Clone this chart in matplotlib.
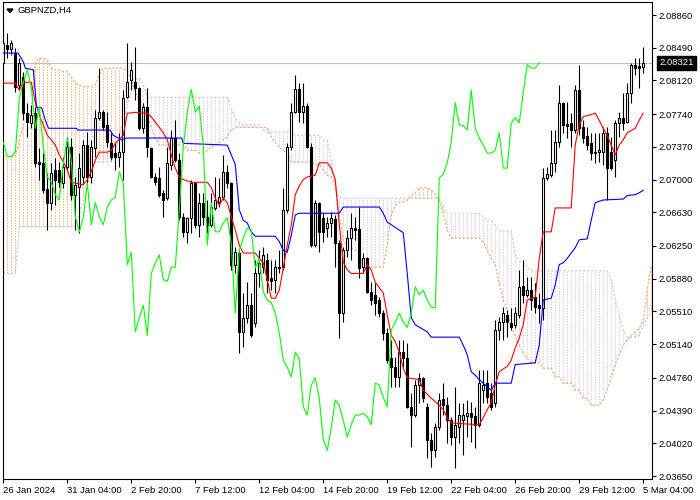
import numpy as np
import matplotlib.pyplot as plt
from matplotlib.patches import Polygon
from matplotlib.transforms import blended_transform_factory

plt.rcParams['font.family'] = ['Liberation Sans', 'DejaVu Sans']

# GBPNZD H4 candles, bars 0..160 (one bar = 4 hours)
date_labels = ['26 Jan 2024', '31 Jan 04:00', '2 Feb 20:00', '7 Feb 12:00', '12 Feb 04:00',
               '14 Feb 20:00', '19 Feb 12:00', '22 Feb 04:00', '26 Feb 20:00', '29 Feb 12:00',
               '5 Mar 04:00']

opens = [2.0832, 2.0852, 2.0848, 2.0843, 2.0807, 2.0816, 2.0775, 2.0764, 2.0775, 2.0720,
         2.0719, 2.0689, 2.0674, 2.0711, 2.0711, 2.0696, 2.0714, 2.0737, 2.0683, 2.0692,
         2.0703, 2.0739, 2.0703, 2.0736, 2.0770, 2.0776, 2.0762, 2.0741, 2.0730, 2.0726,
         2.0731, 2.0793, 2.0813, 2.0810, 2.0804, 2.0758, 2.0782, 2.0736, 2.0703, 2.0702,
         2.0685, 2.0679, 2.0717, 2.0747, 2.0722, 2.0658, 2.0641, 2.0657, 2.0696, 2.0649,
         2.0674, 2.0658, 2.0649, 2.0668, 2.0675, 2.0680, 2.0709, 2.0696, 2.0604, 2.0617,
         2.0528, 2.0544, 2.0558, 2.0538, 2.0594, 2.0601, 2.0609, 2.0589, 2.0587, 2.0600,
         2.0601, 2.0666, 2.0737, 2.0776, 2.0802, 2.0776, 2.0783, 2.0737, 2.0626, 2.0674,
         2.0657, 2.0645, 2.0651, 2.0656, 2.0628, 2.0549, 2.0620, 2.0634, 2.0645, 2.0644,
         2.0601, 2.0611, 2.0573, 2.0570, 2.0564, 2.0549, 2.0527, 2.0498, 2.0488, 2.0477,
         2.0505, 2.0498, 2.0443, 2.0434, 2.0468, 2.0476, 2.0443, 2.0406, 2.0394, 2.0420,
         2.0452, 2.0445, 2.0428, 2.0409, 2.0420, 2.0428, 2.0433, 2.0436, 2.0433, 2.0423,
         2.0462, 2.0470, 2.0459, 2.0448, 2.0530, 2.0539, 2.0547, 2.0538, 2.0536, 2.0547,
         2.0580, 2.0570, 2.0575, 2.0567, 2.0558, 2.0555, 2.0702, 2.0705, 2.0719, 2.0742,
         2.0787, 2.0763, 2.0764, 2.0756, 2.0801, 2.0759, 2.0749, 2.0741, 2.0731, 2.0731,
         2.0731, 2.0753, 2.0731, 2.0722, 2.0764, 2.0770, 2.0765, 2.0798, 2.0830, 2.0828,
         2.0827]

highs = [2.0869, 2.0866, 2.0858, 2.0849, 2.0837, 2.0822, 2.0787, 2.0784, 2.0782, 2.0736,
         2.0730, 2.0707, 2.0719, 2.0724, 2.0720, 2.0726, 2.0748, 2.0747, 2.0703, 2.0730,
         2.0745, 2.0754, 2.0745, 2.0779, 2.0826, 2.0779, 2.0776, 2.0753, 2.0741, 2.0753,
         2.0801, 2.0854, 2.0833, 2.0850, 2.0805, 2.0787, 2.0804, 2.0737, 2.0707, 2.0714,
         2.0688, 2.0737, 2.0756, 2.0767, 2.0730, 2.0662, 2.0658, 2.0700, 2.0697, 2.0685,
         2.0685, 2.0677, 2.0685, 2.0703, 2.0702, 2.0728, 2.0717, 2.0697, 2.0624, 2.0620,
         2.0572, 2.0584, 2.0572, 2.0609, 2.0620, 2.0624, 2.0617, 2.0609, 2.0609, 2.0620,
         2.0691, 2.0741, 2.0787, 2.0818, 2.0809, 2.0809, 2.0787, 2.0741, 2.0677, 2.0675,
         2.0662, 2.0658, 2.0663, 2.0660, 2.0632, 2.0624, 2.0643, 2.0662, 2.0658, 2.0669,
         2.0617, 2.0613, 2.0584, 2.0583, 2.0567, 2.0553, 2.0532, 2.0519, 2.0500, 2.0519,
         2.0519, 2.0515, 2.0459, 2.0474, 2.0481, 2.0477, 2.0448, 2.0414, 2.0425, 2.0459,
         2.0470, 2.0454, 2.0432, 2.0466, 2.0448, 2.0448, 2.0451, 2.0449, 2.0443, 2.0485,
         2.0485, 2.0485, 2.0470, 2.0541, 2.0545, 2.0556, 2.0553, 2.0555, 2.0556, 2.0598,
         2.0609, 2.0590, 2.0590, 2.0583, 2.0572, 2.0713, 2.0714, 2.0756, 2.0756, 2.0807,
         2.0788, 2.0788, 2.0775, 2.0807, 2.0830, 2.0767, 2.0759, 2.0753, 2.0753, 2.0753,
         2.0759, 2.0759, 2.0748, 2.0767, 2.0776, 2.0798, 2.0809, 2.0832, 2.0837, 2.0837,
         2.0850]

lows = [2.0830, 2.0837, 2.0841, 2.0799, 2.0801, 2.0767, 2.0748, 2.0758, 2.0714, 2.0700,
        2.0685, 2.0643, 2.0666, 2.0671, 2.0692, 2.0691, 2.0711, 2.0677, 2.0643, 2.0640,
        2.0696, 2.0696, 2.0696, 2.0726, 2.0767, 2.0756, 2.0737, 2.0722, 2.0711, 2.0714,
        2.0700, 2.0792, 2.0801, 2.0790, 2.0756, 2.0753, 2.0726, 2.0702, 2.0694, 2.0680,
        2.0658, 2.0677, 2.0711, 2.0720, 2.0654, 2.0635, 2.0628, 2.0640, 2.0645, 2.0635,
        2.0649, 2.0640, 2.0647, 2.0666, 2.0669, 2.0677, 2.0691, 2.0598, 2.0594, 2.0504,
        2.0511, 2.0538, 2.0522, 2.0533, 2.0579, 2.0594, 2.0572, 2.0575, 2.0572, 2.0594,
        2.0598, 2.0662, 2.0733, 2.0775, 2.0765, 2.0764, 2.0736, 2.0624, 2.0624, 2.0618,
        2.0630, 2.0635, 2.0635, 2.0601, 2.0521, 2.0539, 2.0613, 2.0609, 2.0632, 2.0589,
        2.0594, 2.0572, 2.0558, 2.0547, 2.0545, 2.0519, 2.0493, 2.0466, 2.0466, 2.0466,
        2.0488, 2.0442, 2.0398, 2.0432, 2.0448, 2.0449, 2.0385, 2.0375, 2.0387, 2.0417,
        2.0434, 2.0402, 2.0400, 2.0374, 2.0402, 2.0389, 2.0409, 2.0403, 2.0397, 2.0420,
        2.0448, 2.0448, 2.0440, 2.0443, 2.0519, 2.0519, 2.0522, 2.0530, 2.0532, 2.0544,
        2.0561, 2.0567, 2.0553, 2.0549, 2.0538, 2.0541, 2.0700, 2.0703, 2.0709, 2.0737,
        2.0753, 2.0747, 2.0737, 2.0753, 2.0750, 2.0741, 2.0733, 2.0722, 2.0719, 2.0720,
        2.0717, 2.0677, 2.0711, 2.0703, 2.0748, 2.0756, 2.0764, 2.0787, 2.0818, 2.0804,
        2.0820]

closes = [2.0854, 2.0848, 2.0854, 2.0805, 2.0832, 2.0775, 2.0765, 2.0773, 2.0719, 2.0718,
          2.0688, 2.0674, 2.0707, 2.0700, 2.0697, 2.0714, 2.0737, 2.0683, 2.0694, 2.0713,
          2.0739, 2.0703, 2.0737, 2.0770, 2.0776, 2.0759, 2.0742, 2.0726, 2.0726, 2.0731,
          2.0792, 2.0810, 2.0824, 2.0804, 2.0758, 2.0782, 2.0737, 2.0703, 2.0697, 2.0683,
          2.0677, 2.0719, 2.0747, 2.0722, 2.0658, 2.0641, 2.0657, 2.0696, 2.0649, 2.0674,
          2.0658, 2.0649, 2.0669, 2.0677, 2.0680, 2.0709, 2.0696, 2.0604, 2.0618, 2.0528,
          2.0544, 2.0558, 2.0524, 2.0594, 2.0606, 2.0615, 2.0587, 2.0585, 2.0601, 2.0601,
          2.0666, 2.0737, 2.0776, 2.0802, 2.0776, 2.0783, 2.0737, 2.0626, 2.0674, 2.0641,
          2.0641, 2.0651, 2.0657, 2.0628, 2.0549, 2.0620, 2.0634, 2.0645, 2.0643, 2.0600,
          2.0611, 2.0573, 2.0564, 2.0561, 2.0549, 2.0527, 2.0496, 2.0488, 2.0477, 2.0505,
          2.0498, 2.0443, 2.0434, 2.0468, 2.0476, 2.0453, 2.0406, 2.0394, 2.0420, 2.0451,
          2.0445, 2.0428, 2.0409, 2.0423, 2.0434, 2.0434, 2.0436, 2.0432, 2.0423, 2.0470,
          2.0468, 2.0454, 2.0443, 2.0530, 2.0539, 2.0549, 2.0539, 2.0533, 2.0549, 2.0579,
          2.0570, 2.0575, 2.0564, 2.0556, 2.0555, 2.0702, 2.0706, 2.0719, 2.0742, 2.0787,
          2.0762, 2.0761, 2.0756, 2.0801, 2.0758, 2.0747, 2.0739, 2.0730, 2.0730, 2.0733,
          2.0753, 2.0713, 2.0713, 2.0764, 2.0770, 2.0764, 2.0798, 2.0830, 2.0826, 2.0826,
          2.08321]

# Tenkan-sen (red) and Kijun-sen (blue), read as (bar, price) points
tenkan_bar = [0, 3, 4, 5, 7, 8, 9, 10, 11, 12, 13, 14, 15, 16, 17, 20, 21, 22, 23, 24,
              26, 27, 28, 30, 31, 33, 36, 37, 39, 40, 41, 42, 43, 44, 45, 47, 51, 52, 53, 54,
              55, 56, 57, 58, 59, 60, 63, 64, 65, 66, 67, 68, 69, 70, 71, 72, 73, 74, 75, 76,
              78, 79, 81, 82, 83, 84, 85, 86, 87, 90, 91, 92, 93, 94, 95, 96, 97, 98, 99, 100,
              101, 104, 105, 107, 109, 110, 111, 112, 119, 120, 121, 122, 123, 124, 126, 127, 128, 129, 130, 131,
              133, 134, 135, 137, 138, 142, 143, 144, 145, 148, 149, 150, 151, 152, 153, 154, 155, 156, 158, 159,
              160]
tenkan = [2.0809, 2.0809, 2.0801, 2.0810, 2.0810, 2.0787, 2.0773, 2.0762, 2.0750, 2.0745,
          2.0739, 2.0728, 2.0720, 2.0711, 2.0697, 2.0694, 2.0700, 2.0709, 2.0722, 2.0731,
          2.0731, 2.0733, 2.0741, 2.0750, 2.0775, 2.0776, 2.0775, 2.0771, 2.0759, 2.0753,
          2.0745, 2.0728, 2.0713, 2.0703, 2.0700, 2.0697, 2.0697, 2.0691, 2.0679, 2.0671,
          2.0679, 2.0674, 2.0658, 2.0643, 2.0626, 2.0617, 2.0617, 2.0611, 2.0606, 2.0587,
          2.0566, 2.0566, 2.0575, 2.0600, 2.0626, 2.0649, 2.0683, 2.0693, 2.0700, 2.0703,
          2.0705, 2.0719, 2.0719, 2.0713, 2.0700, 2.0649, 2.0607, 2.0598, 2.0594, 2.0594,
          2.0604, 2.0598, 2.0584, 2.0578, 2.0572, 2.0547, 2.0524, 2.0517, 2.0505, 2.0487,
          2.0476, 2.0474, 2.0462, 2.0453, 2.0445, 2.0440, 2.0431, 2.0425, 2.0423, 2.0431,
          2.0440, 2.0448, 2.0468, 2.0483, 2.0489, 2.0496, 2.0510, 2.0521, 2.0536, 2.0564,
          2.0567, 2.0611, 2.0641, 2.0641, 2.0668, 2.0668, 2.0739, 2.0762, 2.0771, 2.0775,
          2.0767, 2.0758, 2.0750, 2.0739, 2.0728, 2.0739, 2.0745, 2.0753, 2.0758, 2.0767,
          2.0775]

kijun_bar = [0, 3.7, 5, 5.5, 7.5, 8.3, 9.6, 10.5, 11.3, 18.3, 18.6, 26.7, 27.5, 29.6, 30.8, 44.6, 45, 56, 57, 58,
             59, 60, 61, 62, 63, 68, 69, 70, 71, 72, 73, 74, 84, 85, 94, 95, 96, 97, 100, 101,
             102, 103, 106, 107, 114, 115, 116, 117, 118, 119, 121, 122, 123, 127, 128, 133, 134, 135, 137, 138,
             139, 140, 141, 142, 143, 144, 146, 147, 148, 150, 155, 156, 158, 159, 160]
kijun = [2.0843, 2.0843, 2.0833, 2.0826, 2.0824, 2.0782, 2.0781, 2.0767, 2.0758, 2.0758,
         2.0756, 2.0756, 2.0750, 2.0745, 2.0747, 2.0747, 2.0741, 2.0739, 2.0728, 2.0717,
         2.0666, 2.0654, 2.0651, 2.0641, 2.0636, 2.0636, 2.0630, 2.0620, 2.0618, 2.0637,
         2.0660, 2.0662, 2.0662, 2.0669, 2.0669, 2.0662, 2.0652, 2.0649, 2.0640, 2.0594,
         2.0544, 2.0536, 2.0528, 2.0522, 2.0522, 2.0513, 2.0502, 2.0483, 2.0479, 2.0474,
         2.0466, 2.0462, 2.0470, 2.0470, 2.0491, 2.0493, 2.0513, 2.0564, 2.0566, 2.0581,
         2.0604, 2.0606, 2.0611, 2.0617, 2.0623, 2.0632, 2.0633, 2.0654, 2.0674, 2.0677,
         2.0678, 2.0682, 2.0683, 2.0685, 2.0688]

# Senkou span A / B, one value per bar (0..162)
span_a = [2.0726, 2.0726, 2.0726, 2.0726, 2.0745, 2.0762, 2.0767, 2.0779, 2.0833, 2.0837,
          2.0837, 2.0835, 2.0826, 2.0824, 2.0824, 2.0822, 2.0822, 2.0816, 2.0809, 2.0807,
          2.0805, 2.0805, 2.0805, 2.0807, 2.0818, 2.0826, 2.0826, 2.0826, 2.0826, 2.0826,
          2.0826, 2.0822, 2.0815, 2.0799, 2.0790, 2.0787, 2.0773, 2.0759, 2.0747, 2.0739,
          2.0739, 2.0739, 2.0739, 2.0739, 2.0739, 2.0739, 2.0733, 2.0733, 2.0733, 2.0730,
          2.0730, 2.0733, 2.0737, 2.0739, 2.0742, 2.0745, 2.0748, 2.0756, 2.0759, 2.0759,
          2.0759, 2.0759, 2.0759, 2.0759, 2.0759, 2.0759, 2.0759, 2.0748, 2.0742, 2.0737,
          2.0733, 2.0730, 2.0720, 2.0720, 2.0720, 2.0720, 2.0720, 2.0720, 2.0717, 2.0717,
          2.0711, 2.0705, 2.0703, 2.0694, 2.0660, 2.0632, 2.0626, 2.0623, 2.0620, 2.0617,
          2.0601, 2.0601, 2.0601, 2.0601, 2.0601, 2.0601, 2.0626, 2.0660, 2.0671, 2.0674,
          2.0675, 2.0677, 2.0683, 2.0685, 2.0691, 2.0691, 2.0691, 2.0688, 2.0683, 2.0677,
          2.0662, 2.0643, 2.0634, 2.0634, 2.0634, 2.0634, 2.0634, 2.0634, 2.0634, 2.0634,
          2.0630, 2.0620, 2.0611, 2.0604, 2.0583, 2.0564, 2.0553, 2.0533, 2.0524, 2.0513,
          2.0505, 2.0498, 2.0493, 2.0493, 2.0493, 2.0487, 2.0487, 2.0487, 2.0477, 2.0477,
          2.0470, 2.0470, 2.0470, 2.0462, 2.0462, 2.0453, 2.0453, 2.0445, 2.0445, 2.0445,
          2.0451, 2.0462, 2.0477, 2.0491, 2.0502, 2.0513, 2.0519, 2.0524, 2.0528, 2.0532,
          2.0541, 2.0575, 2.0604]

span_b = [2.0594, 2.0594, 2.0594, 2.0594, 2.0647, 2.0647, 2.0647, 2.0647, 2.0647, 2.0647,
          2.0647, 2.0647, 2.0647, 2.0647, 2.0647, 2.0647, 2.0647, 2.0647, 2.0649, 2.0660,
          2.0677, 2.0694, 2.0711, 2.0720, 2.0720, 2.0720, 2.0720, 2.0720, 2.0733, 2.0750,
          2.0767, 2.0784, 2.0801, 2.0813, 2.0815, 2.0807, 2.0793, 2.0793, 2.0793, 2.0793,
          2.0793, 2.0793, 2.0793, 2.0793, 2.0793, 2.0793, 2.0793, 2.0793, 2.0793, 2.0793,
          2.0793, 2.0793, 2.0793, 2.0793, 2.0793, 2.0793, 2.0793, 2.0779, 2.0770, 2.0764,
          2.0762, 2.0762, 2.0762, 2.0762, 2.0762, 2.0756, 2.0754, 2.0754, 2.0754, 2.0754,
          2.0754, 2.0754, 2.0754, 2.0750, 2.0750, 2.0750, 2.0750, 2.0750, 2.0750, 2.0750,
          2.0745, 2.0745, 2.0722, 2.0694, 2.0679, 2.0679, 2.0679, 2.0679, 2.0679, 2.0679,
          2.0679, 2.0679, 2.0679, 2.0679, 2.0679, 2.0679, 2.0679, 2.0679, 2.0679, 2.0679,
          2.0679, 2.0679, 2.0679, 2.0679, 2.0679, 2.0679, 2.0679, 2.0679, 2.0679, 2.0679,
          2.0671, 2.0662, 2.0662, 2.0662, 2.0662, 2.0662, 2.0662, 2.0662, 2.0662, 2.0662,
          2.0658, 2.0654, 2.0654, 2.0649, 2.0642, 2.0642, 2.0642, 2.0642, 2.0615, 2.0609,
          2.0606, 2.0601, 2.0597, 2.0597, 2.0597, 2.0597, 2.0597, 2.0597, 2.0597, 2.0597,
          2.0597, 2.0597, 2.0597, 2.0597, 2.0597, 2.0597, 2.0597, 2.0597, 2.0597, 2.0597,
          2.0597, 2.0597, 2.0587, 2.0564, 2.0547, 2.0530, 2.0522, 2.0522, 2.0522, 2.0524,
          2.0536, 2.0544, 2.0550]

price_ticks = [2.08860, 2.08490, 2.08120, 2.07740, 2.07370, 2.07000, 2.06630, 2.06250,
               2.05880, 2.05510, 2.05140, 2.04760, 2.04390, 2.04020, 2.03650]

o = np.array(opens)
h = np.array(highs)
l = np.array(lows)
c = np.array(closes)
bars = np.arange(len(c))

fig = plt.figure(figsize=(7, 5), dpi=100)
ax = fig.add_axes([3 / 700, 21 / 500, 649 / 700, 477 / 500])

# Ichimoku cloud: dotted vertical strokes between the two spans
sa = np.array(span_a)
sb = np.array(span_b)
sbars = np.arange(len(sa))
up = sa >= sb
dots = (0, (2, 1.6))
ax.vlines(sbars[up], sb[up], sa[up], colors='#F4A460', linewidth=0.55, linestyles=[dots], zorder=1)
ax.vlines(sbars[~up], sa[~up], sb[~up], colors='#D8BFD8', linewidth=0.55, linestyles=[dots], zorder=1)
ax.plot(sbars, sa, color='#F4A460', lw=0.8, ls=dots, zorder=2)
ax.plot(sbars, sb, color='#D8BFD8', lw=0.8, ls=dots, zorder=2)

# current price line
ax.axhline(c[-1], color='#C0C0C0', lw=0.8, zorder=1.5)

# candles
ax.vlines(bars, l, h, color='black', lw=0.8, zorder=3)
body_col = np.where(c >= o, 'white', 'black')
ax.bar(bars, c - o, bottom=o, width=0.5, color=body_col, edgecolor='black', linewidth=0.8, zorder=4)

# Tenkan, Kijun, Chikou (close shifted back 26 bars)
ax.plot(tenkan_bar, tenkan, color='#FF0000', lw=0.8, zorder=5)
ax.plot(kijun_bar, kijun, color='#0000FF', lw=0.8, zorder=5)
ax.plot(bars[26:] - 26, c[26:], color='#00FF00', lw=0.8, zorder=5)

ax.set_xlim(-0.08, 162.2)
ax.set_ylim(2.03617, 2.09007)

for s in ax.spines.values():
    s.set_color('black')
    s.set_linewidth(0.8)

ax.yaxis.tick_right()
ax.set_yticks(price_ticks)
ax.set_yticklabels([f'{v:.5f}' for v in price_ticks])
ax.set_xticks(bars[::16])
ax.set_xticklabels(date_labels)
for lab in ax.get_xticklabels():
    lab.set_ha('left')
ax.tick_params(axis='both', direction='out', length=3, width=0.8, labelsize=6.8, pad=2, colors='black')

# price label box on the right scale
trans = blended_transform_factory(ax.transAxes, ax.transData)
ax.annotate(f'{c[-1]:.5f}', xy=(1, c[-1]), xycoords=trans, xytext=(7, 0),
            textcoords='offset pixels', va='center', ha='left', fontsize=6.8, color='white',
            bbox=dict(boxstyle='square,pad=0.25', facecolor='black', edgecolor='black'),
            annotation_clip=False)

# symbol caption with the small menu triangle
fig.text(18 / 700, 1 - 10.5 / 500, 'GBPNZD,H4', fontsize=6.8, va='center', ha='left')
fig.add_artist(Polygon([[7 / 700, 1 - 9 / 500], [13 / 700, 1 - 9 / 500], [10 / 700, 1 - 12.5 / 500]],
                       closed=True, transform=fig.transFigure, color='black'))

fig.savefig('out.png', dpi=100, facecolor='white')
